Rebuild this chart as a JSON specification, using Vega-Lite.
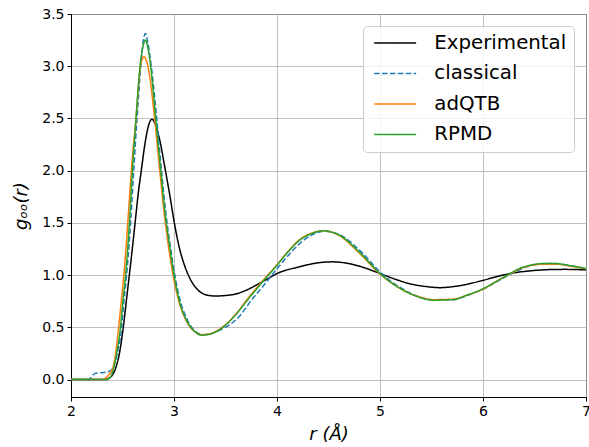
{
  "$schema": "https://vega.github.io/schema/vega-lite/v6.json",
  "width": 515,
  "height": 383,
  "autosize": {"type": "none"},
  "padding": {"left": 71, "top": 14, "right": 3, "bottom": 50},
  "background": "white",
  "config": {
    "font": "DejaVu Sans",
    "view": {"stroke": "black", "strokeWidth": 1},
    "axis": {
      "domainColor": "black",
      "tickColor": "black",
      "tickSize": 4,
      "labelFontSize": 14,
      "labelColor": "black",
      "titleFontSize": 18,
      "titleFontWeight": "normal",
      "titleColor": "black",
      "titleFont": "DejaVu Sans",
      "titleFontStyle": "italic",
      "gridColor": "#b0b0b0",
      "gridWidth": 0.8,
      "labelFont": "DejaVu Sans"
    }
  },
  "data": {
    "values": [
      {"s": "Experimental", "r": 2.0, "g": 0},
      {"s": "Experimental", "r": 2.33, "g": 0},
      {"s": "Experimental", "r": 2.38, "g": 0.02},
      {"s": "Experimental", "r": 2.43, "g": 0.1},
      {"s": "Experimental", "r": 2.47, "g": 0.25},
      {"s": "Experimental", "r": 2.505, "g": 0.48},
      {"s": "Experimental", "r": 2.545, "g": 0.82},
      {"s": "Experimental", "r": 2.586, "g": 1.17},
      {"s": "Experimental", "r": 2.625, "g": 1.526},
      {"s": "Experimental", "r": 2.655, "g": 1.8},
      {"s": "Experimental", "r": 2.683, "g": 2.005},
      {"s": "Experimental", "r": 2.72, "g": 2.27},
      {"s": "Experimental", "r": 2.755, "g": 2.44},
      {"s": "Experimental", "r": 2.787, "g": 2.493},
      {"s": "Experimental", "r": 2.82, "g": 2.44},
      {"s": "Experimental", "r": 2.86, "g": 2.3},
      {"s": "Experimental", "r": 2.916, "g": 2.005},
      {"s": "Experimental", "r": 2.96, "g": 1.76},
      {"s": "Experimental", "r": 3.007, "g": 1.48},
      {"s": "Experimental", "r": 3.05, "g": 1.27},
      {"s": "Experimental", "r": 3.1, "g": 1.10},
      {"s": "Experimental", "r": 3.17, "g": 0.94},
      {"s": "Experimental", "r": 3.23, "g": 0.86},
      {"s": "Experimental", "r": 3.3, "g": 0.815},
      {"s": "Experimental", "r": 3.395, "g": 0.80},
      {"s": "Experimental", "r": 3.5, "g": 0.805},
      {"s": "Experimental", "r": 3.59, "g": 0.817},
      {"s": "Experimental", "r": 3.7, "g": 0.855},
      {"s": "Experimental", "r": 3.8, "g": 0.905},
      {"s": "Experimental", "r": 3.9, "g": 0.96},
      {"s": "Experimental", "r": 4.0, "g": 1.015},
      {"s": "Experimental", "r": 4.22, "g": 1.08},
      {"s": "Experimental", "r": 4.4, "g": 1.118},
      {"s": "Experimental", "r": 4.54, "g": 1.127},
      {"s": "Experimental", "r": 4.7, "g": 1.11},
      {"s": "Experimental", "r": 4.85, "g": 1.07},
      {"s": "Experimental", "r": 5.0, "g": 1.015},
      {"s": "Experimental", "r": 5.15, "g": 0.96},
      {"s": "Experimental", "r": 5.3, "g": 0.915},
      {"s": "Experimental", "r": 5.45, "g": 0.89},
      {"s": "Experimental", "r": 5.58, "g": 0.88},
      {"s": "Experimental", "r": 5.75, "g": 0.895},
      {"s": "Experimental", "r": 6.0, "g": 0.95},
      {"s": "Experimental", "r": 6.15, "g": 0.99},
      {"s": "Experimental", "r": 6.29, "g": 1.02},
      {"s": "Experimental", "r": 6.45, "g": 1.04},
      {"s": "Experimental", "r": 6.65, "g": 1.053},
      {"s": "Experimental", "r": 6.8, "g": 1.055},
      {"s": "Experimental", "r": 7.0, "g": 1.05},

      {"s": "classical", "r": 2.0, "g": 0},
      {"s": "classical", "r": 2.17, "g": 0},
      {"s": "classical", "r": 2.23, "g": 0.057},
      {"s": "classical", "r": 2.3, "g": 0.066},
      {"s": "classical", "r": 2.36, "g": 0.075},
      {"s": "classical", "r": 2.4, "g": 0.1},
      {"s": "classical", "r": 2.43, "g": 0.17},
      {"s": "classical", "r": 2.46, "g": 0.3},
      {"s": "classical", "r": 2.485, "g": 0.44},
      {"s": "classical", "r": 2.515, "g": 0.76},
      {"s": "classical", "r": 2.547, "g": 1.08},
      {"s": "classical", "r": 2.58, "g": 1.526},
      {"s": "classical", "r": 2.609, "g": 2.005},
      {"s": "classical", "r": 2.641, "g": 2.5},
      {"s": "classical", "r": 2.677, "g": 2.995},
      {"s": "classical", "r": 2.70, "g": 3.23},
      {"s": "classical", "r": 2.722, "g": 3.314},
      {"s": "classical", "r": 2.745, "g": 3.23},
      {"s": "classical", "r": 2.78, "g": 2.995},
      {"s": "classical", "r": 2.832, "g": 2.5},
      {"s": "classical", "r": 2.878, "g": 2.005},
      {"s": "classical", "r": 2.926, "g": 1.55},
      {"s": "classical", "r": 2.965, "g": 1.27},
      {"s": "classical", "r": 3.015, "g": 0.96},
      {"s": "classical", "r": 3.065, "g": 0.74},
      {"s": "classical", "r": 3.13, "g": 0.57},
      {"s": "classical", "r": 3.21, "g": 0.46},
      {"s": "classical", "r": 3.28, "g": 0.43},
      {"s": "classical", "r": 3.34, "g": 0.435},
      {"s": "classical", "r": 3.45, "g": 0.475},
      {"s": "classical", "r": 3.62, "g": 0.59},
      {"s": "classical", "r": 3.76, "g": 0.77},
      {"s": "classical", "r": 3.87, "g": 0.9},
      {"s": "classical", "r": 4.0, "g": 1.06},
      {"s": "classical", "r": 4.12, "g": 1.2},
      {"s": "classical", "r": 4.23, "g": 1.31},
      {"s": "classical", "r": 4.35, "g": 1.39},
      {"s": "classical", "r": 4.46, "g": 1.42},
      {"s": "classical", "r": 4.54, "g": 1.41},
      {"s": "classical", "r": 4.63, "g": 1.375},
      {"s": "classical", "r": 4.82, "g": 1.22},
      {"s": "classical", "r": 5.0, "g": 1.03},
      {"s": "classical", "r": 5.12, "g": 0.93},
      {"s": "classical", "r": 5.27, "g": 0.84},
      {"s": "classical", "r": 5.4, "g": 0.785},
      {"s": "classical", "r": 5.53, "g": 0.76},
      {"s": "classical", "r": 5.72, "g": 0.765},
      {"s": "classical", "r": 5.86, "g": 0.81},
      {"s": "classical", "r": 6.0, "g": 0.865},
      {"s": "classical", "r": 6.14, "g": 0.94},
      {"s": "classical", "r": 6.27, "g": 1.01},
      {"s": "classical", "r": 6.4, "g": 1.07},
      {"s": "classical", "r": 6.5, "g": 1.10},
      {"s": "classical", "r": 6.62, "g": 1.112},
      {"s": "classical", "r": 6.72, "g": 1.11},
      {"s": "classical", "r": 6.86, "g": 1.09},
      {"s": "classical", "r": 7.0, "g": 1.06},

      {"s": "adQTB", "r": 2.0, "g": 0},
      {"s": "adQTB", "r": 2.29, "g": 0},
      {"s": "adQTB", "r": 2.327, "g": 0.01},
      {"s": "adQTB", "r": 2.37, "g": 0.05},
      {"s": "adQTB", "r": 2.408, "g": 0.12},
      {"s": "adQTB", "r": 2.435, "g": 0.26},
      {"s": "adQTB", "r": 2.456, "g": 0.44},
      {"s": "adQTB", "r": 2.489, "g": 0.76},
      {"s": "adQTB", "r": 2.52, "g": 1.08},
      {"s": "adQTB", "r": 2.553, "g": 1.526},
      {"s": "adQTB", "r": 2.586, "g": 2.005},
      {"s": "adQTB", "r": 2.631, "g": 2.5},
      {"s": "adQTB", "r": 2.674, "g": 2.995},
      {"s": "adQTB", "r": 2.69, "g": 3.065},
      {"s": "adQTB", "r": 2.709, "g": 3.09},
      {"s": "adQTB", "r": 2.728, "g": 3.065},
      {"s": "adQTB", "r": 2.748, "g": 2.995},
      {"s": "adQTB", "r": 2.812, "g": 2.5},
      {"s": "adQTB", "r": 2.861, "g": 2.005},
      {"s": "adQTB", "r": 2.91, "g": 1.55},
      {"s": "adQTB", "r": 2.95, "g": 1.25},
      {"s": "adQTB", "r": 3.0, "g": 0.95},
      {"s": "adQTB", "r": 3.05, "g": 0.74},
      {"s": "adQTB", "r": 3.115, "g": 0.57},
      {"s": "adQTB", "r": 3.2, "g": 0.46},
      {"s": "adQTB", "r": 3.266, "g": 0.43},
      {"s": "adQTB", "r": 3.33, "g": 0.435},
      {"s": "adQTB", "r": 3.43, "g": 0.475},
      {"s": "adQTB", "r": 3.59, "g": 0.615},
      {"s": "adQTB", "r": 3.72, "g": 0.78},
      {"s": "adQTB", "r": 3.83, "g": 0.91},
      {"s": "adQTB", "r": 4.0, "g": 1.10},
      {"s": "adQTB", "r": 4.11, "g": 1.23},
      {"s": "adQTB", "r": 4.22, "g": 1.34},
      {"s": "adQTB", "r": 4.33, "g": 1.4},
      {"s": "adQTB", "r": 4.447, "g": 1.425},
      {"s": "adQTB", "r": 4.52, "g": 1.415},
      {"s": "adQTB", "r": 4.61, "g": 1.375},
      {"s": "adQTB", "r": 4.8, "g": 1.21},
      {"s": "adQTB", "r": 5.0, "g": 1.01},
      {"s": "adQTB", "r": 5.12, "g": 0.92},
      {"s": "adQTB", "r": 5.256, "g": 0.84},
      {"s": "adQTB", "r": 5.39, "g": 0.79},
      {"s": "adQTB", "r": 5.515, "g": 0.765},
      {"s": "adQTB", "r": 5.71, "g": 0.77},
      {"s": "adQTB", "r": 5.85, "g": 0.81},
      {"s": "adQTB", "r": 6.0, "g": 0.865},
      {"s": "adQTB", "r": 6.13, "g": 0.94},
      {"s": "adQTB", "r": 6.26, "g": 1.01},
      {"s": "adQTB", "r": 6.37, "g": 1.065},
      {"s": "adQTB", "r": 6.485, "g": 1.095},
      {"s": "adQTB", "r": 6.6, "g": 1.105},
      {"s": "adQTB", "r": 6.71, "g": 1.105},
      {"s": "adQTB", "r": 6.85, "g": 1.085},
      {"s": "adQTB", "r": 7.0, "g": 1.06},

      {"s": "RPMD", "r": 2.0, "g": 0},
      {"s": "RPMD", "r": 2.34, "g": 0},
      {"s": "RPMD", "r": 2.38, "g": 0.02},
      {"s": "RPMD", "r": 2.424, "g": 0.153},
      {"s": "RPMD", "r": 2.45, "g": 0.29},
      {"s": "RPMD", "r": 2.473, "g": 0.44},
      {"s": "RPMD", "r": 2.505, "g": 0.76},
      {"s": "RPMD", "r": 2.537, "g": 1.08},
      {"s": "RPMD", "r": 2.567, "g": 1.50},
      {"s": "RPMD", "r": 2.596, "g": 2.005},
      {"s": "RPMD", "r": 2.631, "g": 2.5},
      {"s": "RPMD", "r": 2.67, "g": 2.995},
      {"s": "RPMD", "r": 2.695, "g": 3.17},
      {"s": "RPMD", "r": 2.722, "g": 3.25},
      {"s": "RPMD", "r": 2.748, "g": 3.17},
      {"s": "RPMD", "r": 2.774, "g": 2.995},
      {"s": "RPMD", "r": 2.822, "g": 2.5},
      {"s": "RPMD", "r": 2.871, "g": 2.005},
      {"s": "RPMD", "r": 2.915, "g": 1.58},
      {"s": "RPMD", "r": 2.958, "g": 1.27},
      {"s": "RPMD", "r": 3.007, "g": 0.96},
      {"s": "RPMD", "r": 3.055, "g": 0.74},
      {"s": "RPMD", "r": 3.12, "g": 0.57},
      {"s": "RPMD", "r": 3.2, "g": 0.46},
      {"s": "RPMD", "r": 3.266, "g": 0.425},
      {"s": "RPMD", "r": 3.33, "g": 0.43},
      {"s": "RPMD", "r": 3.43, "g": 0.47},
      {"s": "RPMD", "r": 3.59, "g": 0.61},
      {"s": "RPMD", "r": 3.72, "g": 0.77},
      {"s": "RPMD", "r": 3.83, "g": 0.90},
      {"s": "RPMD", "r": 4.0, "g": 1.095},
      {"s": "RPMD", "r": 4.11, "g": 1.225},
      {"s": "RPMD", "r": 4.22, "g": 1.334},
      {"s": "RPMD", "r": 4.33, "g": 1.395},
      {"s": "RPMD", "r": 4.447, "g": 1.424},
      {"s": "RPMD", "r": 4.52, "g": 1.415},
      {"s": "RPMD", "r": 4.61, "g": 1.38},
      {"s": "RPMD", "r": 4.8, "g": 1.22},
      {"s": "RPMD", "r": 5.0, "g": 1.015},
      {"s": "RPMD", "r": 5.12, "g": 0.92},
      {"s": "RPMD", "r": 5.256, "g": 0.84},
      {"s": "RPMD", "r": 5.39, "g": 0.785},
      {"s": "RPMD", "r": 5.515, "g": 0.76},
      {"s": "RPMD", "r": 5.71, "g": 0.766},
      {"s": "RPMD", "r": 5.85, "g": 0.81},
      {"s": "RPMD", "r": 6.0, "g": 0.87},
      {"s": "RPMD", "r": 6.13, "g": 0.94},
      {"s": "RPMD", "r": 6.26, "g": 1.015},
      {"s": "RPMD", "r": 6.37, "g": 1.07},
      {"s": "RPMD", "r": 6.485, "g": 1.10},
      {"s": "RPMD", "r": 6.6, "g": 1.112},
      {"s": "RPMD", "r": 6.71, "g": 1.11},
      {"s": "RPMD", "r": 6.85, "g": 1.09},
      {"s": "RPMD", "r": 7.0, "g": 1.063}
    ]
  },
  "mark": {"type": "line", "strokeWidth": 1.5, "clip": true, "interpolate": "monotone"},
  "encoding": {
    "x": {
      "field": "r",
      "type": "quantitative",
      "scale": {"domain": [2, 7], "nice": false, "zero": false},
      "axis": {"title": "r (Å)", "values": [2, 3, 4, 5, 6, 7], "format": "d", "labelPadding": 3, "titlePadding": 7, "labelFlush": false}
    },
    "y": {
      "field": "g",
      "type": "quantitative",
      "scale": {"domain": [-0.167, 3.5], "nice": false, "zero": false},
      "axis": {"title": "gₒₒ(r)", "values": [0, 0.5, 1, 1.5, 2, 2.5, 3, 3.5], "format": ".1f", "labelPadding": 3, "titlePadding": 11, "labelFlush": false}
    },
    "color": {
      "field": "s",
      "type": "nominal",
      "sort": ["Experimental", "classical", "adQTB", "RPMD"],
      "scale": {"domain": ["Experimental", "classical", "adQTB", "RPMD"], "range": ["#000000", "#1f77b4", "#ff7f0e", "#2ca02c"]},
      "legend": {
        "title": null,
        "orient": "top-right",
        "offset": 12,
        "labelFontSize": 19.8,
        "labelFont": "DejaVu Sans",
        "labelColor": "black",
        "symbolType": "M-0.821,0H5.179",
        "symbolSize": 196,
        "symbolStrokeWidth": 1.5,
        "labelOffset": 44.5,
        "rowPadding": 9.5,
        "padding": 7,
        "strokeColor": "#cccccc",
        "fillColor": "rgba(255,255,255,0.8)",
        "cornerRadius": 4
      }
    },
    "strokeDash": {
      "field": "s",
      "type": "nominal",
      "sort": ["Experimental", "classical", "adQTB", "RPMD"],
      "scale": {"domain": ["Experimental", "classical", "adQTB", "RPMD"], "range": [[1, 0], [5.5, 2.4], [1, 0], [1, 0]]},
      "legend": null
    }
  }
}
